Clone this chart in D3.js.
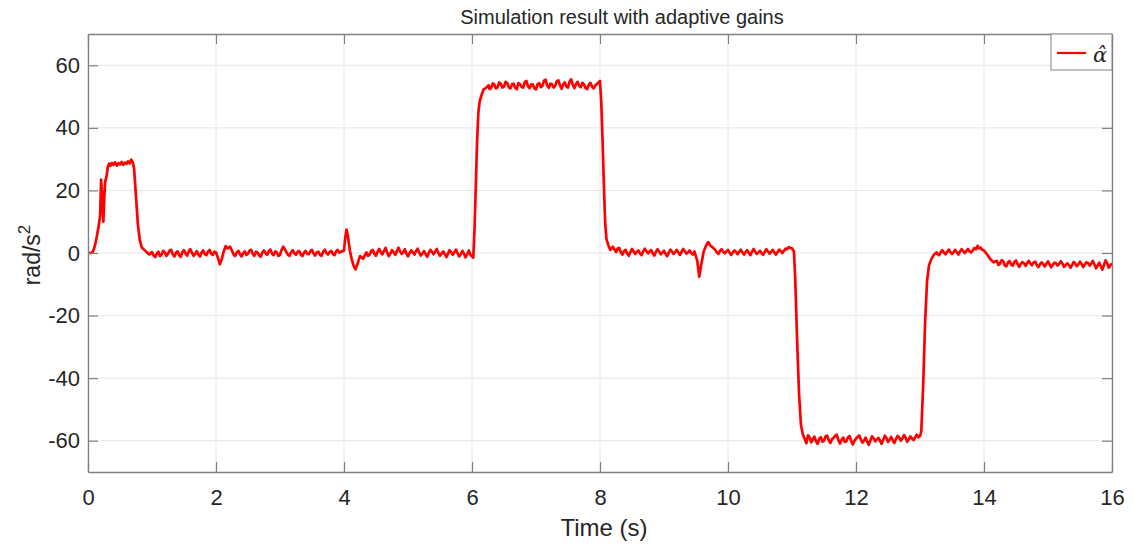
<!DOCTYPE html>
<html>
<head>
<meta charset="utf-8">
<script src="https://cdn.jsdelivr.net/npm/d3@7"></script>
<style>
  html, body { margin: 0; padding: 0; background: #fff; }
  svg { display: block; font-family: "Liberation Sans", Arial, Helvetica, sans-serif; }
</style>
</head>
<body>
<svg id="chart" width="1133" height="549"></svg>
<script>
// ---- data ----
const chartTitle = "Simulation result with adaptive gains";
const xLabel = "Time (s)";
const yLabelBase = "rad/s";
const yLabelSup = "2";
const seriesName = "α\u0302";
const xTicks = [0, 2, 4, 6, 8, 10, 12, 14, 16];
const yTicks = [-60, -40, -20, 0, 20, 40, 60];
const xDomain = [0, 16];
const yDomain = [-70, 70];

// alpha-hat estimate: [time (s), value (rad/s^2)]
const alphaHat = [
  [0,0],[0.05,0],[0.08,0.5],[0.11,2.5],[0.14,5.5],[0.17,9],[0.19,12],[0.205,23.5],[0.225,17],[0.24,10],
  [0.255,18],[0.27,23],[0.29,24.5],[0.31,27.5],[0.33,28.6],[0.35,27.9],[0.375,28.8],[0.40,28.2],[0.425,29.0],[0.45,27.9],
  [0.475,28.7],[0.50,28.3],[0.525,29.1],[0.55,28.2],[0.575,28.9],[0.60,28.5],[0.625,29.3],[0.65,28.6],[0.675,29.8],[0.70,29.0],
  [0.72,27],[0.75,18],[0.78,9],[0.81,4],[0.84,1.8],[0.88,1.0],[0.92,0.2],[0.96,-0.5],
  [1.000,0.3],[1.025,-0.8],[1.050,-1.3],[1.075,-0.2],[1.100,0.4],[1.125,-1.0],[1.150,-0.6],[1.175,0.7],[1.200,0.2],[1.225,-0.9],
  [1.250,-0.3],[1.275,0.8],[1.300,1.0],[1.325,-0.4],[1.350,-1.1],[1.375,0.1],[1.400,0.5],[1.425,-0.7],[1.450,-1.2],[1.475,0.3],
  [1.500,0.9],[1.525,-0.2],[1.550,-0.8],[1.575,0.6],[1.600,1.2],[1.625,0.0],[1.650,-0.9],[1.675,-0.3],[1.700,0.6],[1.725,-0.5],
  [1.750,-1.1],[1.775,0.2],[1.800,0.8],[1.825,-0.4],[1.850,-0.7],[1.875,0.5],[1.900,1.0],[1.925,-0.2],[1.950,-0.6],[1.975,0.4],
  [2.000,0.2],[2.03,-1.5],[2.06,-3.6],[2.09,-2.0],[2.12,0.5],[2.15,2.2],[2.18,1.5],[2.22,2.0],[2.26,0.3],
  [2.275,-0.5],[2.300,-0.9],[2.325,0.2],[2.350,0.7],[2.375,-0.4],[2.400,-1.1],[2.425,0.0],[2.450,0.5],[2.475,-0.6],[2.500,-0.2],
  [2.525,0.8],[2.550,1.0],[2.575,-0.3],[2.600,-0.9],[2.625,0.4],[2.650,0.1],[2.675,-0.8],[2.700,-1.2],[2.725,0.2],[2.750,0.8],
  [2.775,-0.1],[2.800,-0.6],[2.825,0.6],[2.850,1.1],[2.875,-0.2],[2.900,-0.7],[2.925,0.5],[2.950,0.2],[2.975,-0.9],[3.000,-0.5],
  [3.025,1.0],[3.050,2.0],[3.075,1.2],[3.100,0.3],[3.125,-0.6],[3.150,-0.9],[3.175,0.3],[3.200,0.9],[3.225,-0.1],[3.250,-0.6],
  [3.275,0.4],[3.300,0.6],[3.325,-0.5],[3.350,-1.0],[3.375,0.1],[3.400,0.7],[3.425,-0.3],[3.450,-0.4],[3.475,0.6],[3.500,1.0],
  [3.525,-0.2],[3.550,-0.8],[3.575,0.2],[3.600,0.4],[3.625,-0.6],[3.650,-0.9],[3.675,0.4],[3.700,1.1],[3.725,0.0],[3.750,-0.5],
  [3.775,0.3],[3.800,0.7],[3.825,-0.3],[3.850,-0.7],[3.875,0.4],[3.900,1.0],[3.925,0.1],[3.950,0.4],[3.975,0.6],
  [4.00,0.8],[4.02,5.0],[4.04,7.5],[4.06,5.5],[4.09,1.0],[4.12,-2.0],[4.15,-4.0],[4.18,-5.2],[4.21,-3.5],[4.25,-1.0],
  [4.30,-1.8],[4.35,0.2],
  [4.375,-0.9],[4.400,-0.5],[4.425,0.6],[4.450,1.0],[4.475,-0.3],[4.500,-0.9],[4.525,0.4],[4.550,1.3],[4.575,0.2],[4.600,-0.4],
  [4.625,0.7],[4.650,1.6],[4.675,0.1],[4.700,-1.0],[4.725,-0.2],[4.750,0.9],[4.775,0.3],[4.800,-0.6],[4.825,0.5],[4.850,1.7],
  [4.875,0.6],[4.900,-0.3],[4.925,0.2],[4.950,1.2],[4.975,-0.2],[5.000,-1.1],[5.025,0.0],[5.050,0.8],[5.075,0.2],[5.100,-0.5],
  [5.125,0.6],[5.150,1.4],[5.175,0.1],[5.200,-0.8],[5.225,-0.1],[5.250,0.6],[5.275,-0.4],[5.300,-1.2],[5.325,0.1],[5.350,1.0],
  [5.375,0.3],[5.400,-0.4],[5.425,0.5],[5.450,1.3],[5.475,0.0],[5.500,-0.9],[5.525,-0.2],[5.550,0.5],[5.575,-0.3],[5.600,-1.3],
  [5.625,-0.2],[5.650,0.9],[5.675,0.2],[5.700,-0.6],[5.725,0.3],[5.750,1.1],[5.775,-0.1],[5.800,-1.1],[5.825,-0.3],[5.850,0.7],
  [5.875,-0.2],[5.900,-1.4],[5.925,-0.4],[5.950,0.8],[5.975,-0.6],[6.000,-1.0],
  [6.02,-1.5],[6.04,8],[6.06,22],[6.08,36],[6.10,45],[6.12,48.5],[6.15,50.5],[6.18,52.3],[6.22,52.8],[6.26,53.6],
  [6.275,52.4],[6.300,52.8],[6.325,54.2],[6.350,53.8],[6.375,52.6],[6.400,53.0],[6.425,54.5],[6.450,54.0],[6.475,52.9],[6.500,53.2],
  [6.525,54.7],[6.550,54.4],[6.575,53.0],[6.600,52.6],[6.625,53.9],[6.650,54.1],[6.675,52.8],[6.700,52.4],[6.725,54.3],[6.750,54.0],
  [6.775,53.1],[6.800,52.9],[6.825,54.6],[6.850,55.0],[6.875,53.3],[6.900,52.7],[6.925,53.8],[6.950,53.9],[6.975,52.6],[7.000,52.3],
  [7.025,54.0],[7.050,54.3],[7.075,53.0],[7.100,53.4],[7.125,55.1],[7.150,55.4],[7.175,53.5],[7.200,52.8],[7.225,54.1],[7.250,53.9],
  [7.275,52.9],[7.300,53.4],[7.325,54.9],[7.350,55.2],[7.375,53.6],[7.400,52.5],[7.425,53.9],[7.450,54.5],[7.475,53.2],[7.500,52.9],
  [7.525,54.8],[7.550,55.5],[7.575,53.7],[7.600,52.7],[7.625,54.0],[7.650,54.7],[7.675,53.4],[7.700,53.0],[7.725,54.4],[7.750,53.9],
  [7.775,52.7],[7.800,52.4],[7.825,53.8],[7.850,54.4],[7.875,53.2],[7.900,52.6],[7.925,53.6],[7.950,53.9],[7.975,54.5],[8.000,55],
  [8.02,48],[8.04,36],[8.06,22],[8.08,10],[8.10,4.5],[8.13,2.5],[8.16,1.0],[8.20,2.0],[8.25,0.3],
  [8.275,1.4],[8.300,1.6],[8.325,0.2],[8.350,-0.5],[8.375,0.6],[8.400,1.0],[8.425,-0.2],[8.450,-0.9],[8.475,0.3],[8.500,1.3],
  [8.525,0.5],[8.550,-0.3],[8.575,0.4],[8.600,0.8],[8.625,-0.1],[8.650,-0.7],[8.675,0.6],[8.700,1.4],[8.725,0.6],[8.750,-0.1],
  [8.775,0.5],[8.800,0.9],[8.825,-0.2],[8.850,-0.8],[8.875,0.4],[8.900,1.2],[8.925,0.4],[8.950,-0.4],[8.975,0.2],[9.000,0.7],
  [9.025,-0.3],[9.050,-1.0],[9.075,0.2],[9.100,1.1],[9.125,0.5],[9.150,-0.3],[9.175,0.3],[9.200,1.0],[9.225,0.1],[9.250,-0.6],
  [9.275,0.4],[9.300,1.3],[9.325,0.6],[9.350,-0.2],[9.375,0.2],[9.400,0.8],[9.425,0.0],[9.450,-0.5],[9.475,0.5],
  [9.52,-2.5],[9.55,-7.6],[9.58,-4],[9.62,0.5],[9.66,2.5],[9.69,3.5],[9.72,2.5],[9.76,1.8],[9.80,1.0],
  [9.825,0.2],[9.850,-0.3],[9.875,0.7],[9.900,1.2],[9.925,0.4],[9.950,-0.1],[9.975,0.5],[10.000,1.0],[10.025,0.1],[10.050,-0.6],
  [10.075,0.2],[10.100,0.8],[10.125,0.3],[10.150,-0.4],[10.175,0.4],[10.200,1.1],[10.225,0.2],[10.250,-0.5],[10.275,0.3],[10.300,0.9],
  [10.325,0.0],[10.350,-0.7],[10.375,0.5],[10.400,1.3],[10.425,0.4],[10.450,-0.3],[10.475,0.2],[10.500,0.7],[10.525,-0.1],[10.550,-0.6],
  [10.575,0.4],[10.600,1.2],[10.625,0.5],[10.650,-0.2],[10.675,0.4],[10.700,1.0],[10.725,0.1],[10.750,-0.5],[10.775,0.3],[10.800,1.1],
  [10.825,0.6],[10.850,0.0],[10.875,0.7],[10.900,1.4],[10.925,1.2],[10.950,1.9],[10.975,1.6],[11.000,1.5],
  [11.03,0.5],[11.05,-8],[11.08,-28],[11.11,-45],[11.14,-55],[11.17,-58],[11.20,-59.5],
  [11.225,-60.8],[11.250,-58.3],[11.275,-58.9],[11.300,-60.5],[11.325,-59.6],[11.350,-58.7],[11.375,-60.1],[11.400,-61.0],[11.425,-59.4],[11.450,-58.9],
  [11.475,-60.3],[11.500,-60.0],[11.525,-58.6],[11.550,-58.4],[11.575,-59.9],[11.600,-60.7],[11.625,-59.5],[11.650,-59.1],[11.675,-58.4],[11.700,-58.1],
  [11.725,-59.8],[11.750,-60.9],[11.775,-59.7],[11.800,-59.0],[11.825,-60.4],[11.850,-60.2],[11.875,-58.9],[11.900,-58.5],[11.925,-60.0],[11.950,-61.2],
  [11.975,-60.1],[12.000,-59.3],[12.025,-58.8],[12.050,-58.3],[12.075,-59.6],[12.100,-60.6],[12.125,-60.0],[12.150,-59.0],[12.175,-60.3],[12.200,-61.3],
  [12.225,-59.9],[12.250,-58.6],[12.275,-59.2],[12.300,-60.2],[12.325,-59.6],[12.350,-59.1],[12.375,-60.0],[12.400,-61.0],[12.425,-59.8],[12.450,-58.4],
  [12.475,-59.1],[12.500,-60.4],[12.525,-59.7],[12.550,-58.8],[12.575,-59.9],[12.600,-60.7],[12.625,-59.4],[12.650,-58.5],[12.675,-59.0],[12.700,-60.0],
  [12.725,-59.3],[12.750,-58.2],[12.775,-59.0],[12.800,-60.3],[12.825,-59.6],[12.850,-58.6],[12.875,-59.3],[12.900,-59.8],[12.925,-58.9],[12.950,-58.1],
  [12.975,-58.9],[13.000,-58.5],
  [13.02,-57],[13.05,-42],[13.08,-22],[13.11,-9],[13.14,-4],[13.18,-1.8],[13.22,-0.5],[13.26,0.2],
  [13.275,-0.3],[13.300,-0.7],[13.325,0.3],[13.350,0.9],[13.375,0.1],[13.400,-0.4],[13.425,0.4],[13.450,1.1],[13.475,0.3],[13.500,-0.3],
  [13.525,0.3],[13.550,1.0],[13.575,0.2],[13.600,-0.5],[13.625,0.5],[13.650,1.2],[13.675,0.6],[13.700,0.0],[13.725,0.7],[13.750,1.3],
  [13.775,0.5],[13.800,0.2],[13.825,0.9],[13.850,1.6],[13.875,1.2],[13.900,2.3],[13.925,1.4],[13.950,1.7],[13.975,1.0],[14.000,0.8],
  [14.05,-0.5],[14.10,-2.0],[14.15,-3.0],[14.20,-2.5],
  [14.225,-3.8],[14.250,-3.4],[14.275,-2.3],[14.300,-2.6],[14.325,-4.0],[14.350,-4.2],[14.375,-3.0],[14.400,-2.6],[14.425,-3.7],[14.450,-4.0],
  [14.475,-2.8],[14.500,-2.4],[14.525,-3.6],[14.550,-4.4],[14.575,-3.5],[14.600,-2.9],[14.625,-3.3],[14.650,-4.1],[14.675,-3.2],[14.700,-2.5],
  [14.725,-3.4],[14.750,-3.9],[14.775,-3.0],[14.800,-2.8],[14.825,-3.9],[14.850,-4.5],[14.875,-3.6],[14.900,-3.0],[14.925,-3.5],[14.950,-4.3],
  [14.975,-3.4],[15.000,-2.7],[15.025,-3.6],[15.050,-4.6],[15.075,-3.8],[15.100,-3.1],[15.125,-3.3],[15.150,-4.0],[15.175,-3.5],[15.200,-2.6],
  [15.225,-3.4],[15.250,-4.4],[15.275,-3.9],[15.300,-3.3],[15.325,-3.8],[15.350,-4.7],[15.375,-3.9],[15.400,-2.9],[15.425,-3.3],[15.450,-4.2],
  [15.475,-3.6],[15.500,-2.8],[15.525,-3.5],[15.550,-4.5],[15.575,-3.7],[15.600,-3.0],[15.625,-3.2],[15.650,-4.0],[15.675,-3.4],[15.700,-2.5],
  [15.725,-3.6],[15.750,-4.9],[15.775,-4.1],[15.800,-3.1],[15.825,-4.2],[15.850,-5.3],[15.875,-3.8],[15.900,-2.4],[15.925,-3.3],[15.950,-4.7],
  [15.975,-3.9],[16.000,-3.3]
];

// ---- layout ----
const W = 1133, H = 549;
const m = { left: 88, right: 21, top: 34, bottom: 77 };
const iw = W - m.left - m.right, ih = H - m.top - m.bottom;
const axisColor = "#808080", gridColor = "#e6e6e6", textColor = "#262626";

const svg = d3.select("#chart");
const x = d3.scaleLinear().domain(xDomain).range([m.left, m.left + iw]);
const y = d3.scaleLinear().domain(yDomain).range([m.top + ih, m.top]);
const fmt = d => String(d);

// grid
const grid = svg.append("g");
grid.selectAll(".gx").data(xTicks).join("line")
  .attr("x1", d => x(d)).attr("x2", d => x(d)).attr("y1", m.top).attr("y2", m.top + ih)
  .attr("stroke", gridColor).attr("stroke-width", 1);
grid.selectAll(".gy").data(yTicks).join("line")
  .attr("y1", d => y(d)).attr("y2", d => y(d)).attr("x1", m.left).attr("x2", m.left + iw)
  .attr("stroke", gridColor).attr("stroke-width", 1);

// line
svg.append("clipPath").attr("id", "clip").append("rect")
  .attr("x", m.left).attr("y", m.top).attr("width", iw).attr("height", ih);
const line = d3.line().x(d => x(d[0])).y(d => y(d[1]));
svg.append("path").datum(alphaHat)
  .attr("clip-path", "url(#clip)")
  .attr("fill", "none").attr("stroke", "#ff0000").attr("stroke-width", 2.7)
  .attr("stroke-linejoin", "round").attr("d", line);

// axes (ticks inward, box on)
function styleAxis(g) {
  g.selectAll(".domain").attr("stroke", axisColor).attr("stroke-width", 1.3);
  g.selectAll(".tick line").attr("stroke", axisColor).attr("stroke-width", 1.2);
  g.selectAll(".tick text").attr("fill", textColor).style("font-size", "22px")
    .style("font-family", "'Liberation Sans', Arial, sans-serif");
}
const tickLen = 10;
svg.append("g").attr("transform", `translate(0,${m.top + ih})`)
  .call(d3.axisBottom(x).tickValues(xTicks).tickSizeInner(-tickLen).tickSizeOuter(0).tickPadding(17).tickFormat(fmt))
  .call(styleAxis);
svg.append("g").attr("transform", `translate(0,${m.top})`)
  .call(d3.axisTop(x).tickValues(xTicks).tickSizeInner(-tickLen).tickSizeOuter(0).tickFormat(""))
  .call(styleAxis);
svg.append("g").attr("transform", `translate(${m.left},0)`)
  .call(d3.axisLeft(y).tickValues(yTicks).tickSizeInner(-tickLen).tickSizeOuter(0).tickPadding(8).tickFormat(fmt))
  .call(styleAxis);
svg.append("g").attr("transform", `translate(${m.left + iw},0)`)
  .call(d3.axisRight(y).tickValues(yTicks).tickSizeInner(-tickLen).tickSizeOuter(0).tickFormat(""))
  .call(styleAxis);

// title
svg.append("text").attr("x", 622).attr("y", 24).attr("text-anchor", "middle")
  .attr("fill", textColor).style("font-size", "20px").text(chartTitle);

// x label
svg.append("text").attr("x", 604).attr("y", 536).attr("text-anchor", "middle")
  .attr("fill", textColor).style("font-size", "24px").text(xLabel);

// y label
const yl = svg.append("text").attr("transform", `translate(40,255) rotate(-90)`)
  .attr("text-anchor", "middle").attr("fill", textColor).style("font-size", "23px");
yl.append("tspan").text(yLabelBase);
yl.append("tspan").attr("dy", -10).style("font-size", "17px").text(yLabelSup);

// legend
const lg = svg.append("g");
lg.append("rect").attr("x", 1051).attr("y", m.top).attr("width", m.left + iw - 1051).attr("height", 36)
  .attr("fill", "#fff").attr("stroke", axisColor).attr("stroke-width", 1);
lg.append("line").attr("x1", 1057).attr("x2", 1086).attr("y1", 53).attr("y2", 53)
  .attr("stroke", "#ff0000").attr("stroke-width", 2.2);
lg.append("text").attr("x", 1100).attr("y", 62).attr("text-anchor", "middle")
  .style("font-family", "'DejaVu Serif', 'Liberation Serif', serif").style("font-style", "italic")
  .style("font-size", "21px").attr("fill", textColor).text(seriesName);
</script>
</body>
</html>
